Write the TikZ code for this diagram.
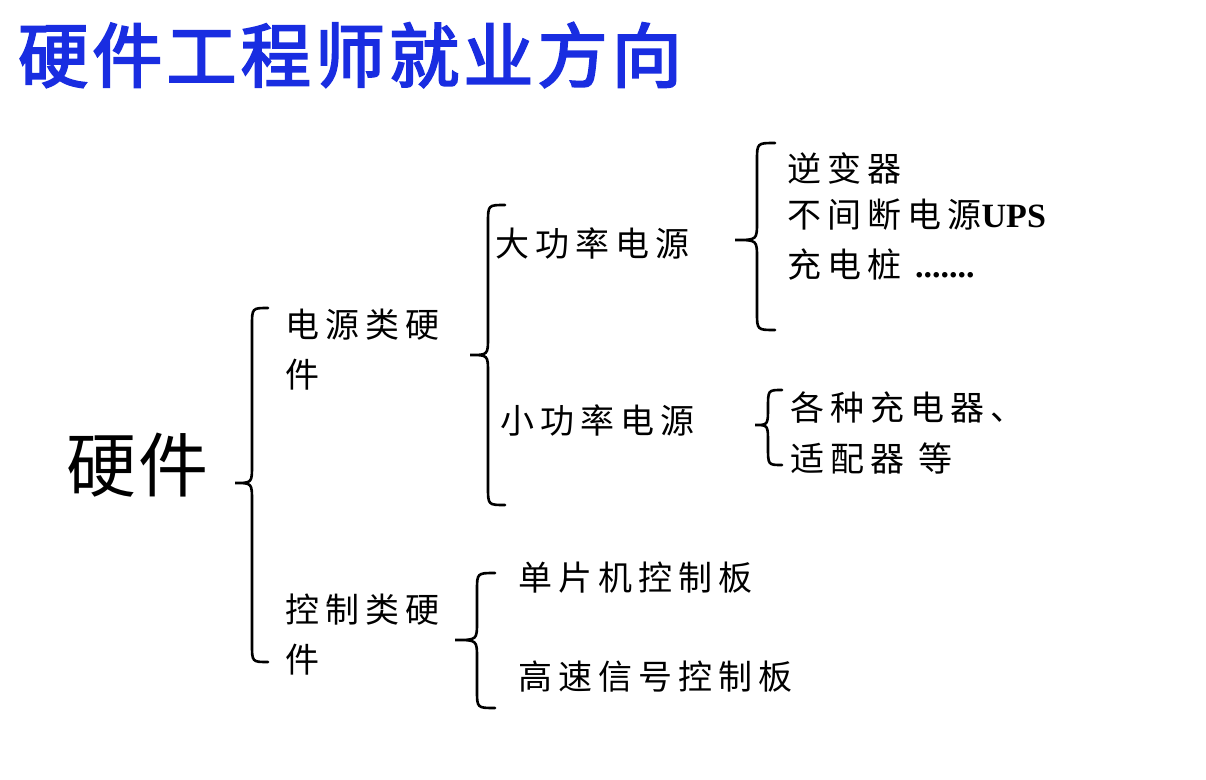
\documentclass[tikz,border=0pt]{standalone}
\usepackage{fontspec}
\setmainfont{Liberation Serif}
\newfontfamily\cjk{Noto Sans CJK SC}[LetterSpace=18]
\newfontfamily\cjkbig{Noto Sans CJK SC}[LetterSpace=4]
\newfontfamily\cjkb{Noto Sans CJK SC}[FakeBold=3,LetterSpace=6]
\newfontfamily\upsfont{Liberation Serif}
\definecolor{titleblue}{RGB}{25,45,225}
\newcommand{\cbrace}[6]{% xl xm xr ytop ytip ybot
  \draw[brc] (#3,#4) .. controls (#2,#4) .. (#2,#4+18) -- (#2,#5-18) .. controls (#2,#5) .. (#1,#5) .. controls (#2,#5) .. (#2,#5+18) -- (#2,#6-18) .. controls (#2,#6) .. (#3,#6);}
\begin{document}
\begin{tikzpicture}[x=1pt,y=-1pt,
  brc/.style={line width=2.6pt,line cap=round},
  t/.style={anchor=west,inner sep=0pt,font=\cjk\fontsize{34}{36}\selectfont}]
\useasboundingbox (0,0) rectangle (1206,779);
\fill[white] (0,0) rectangle (1206,779);
\node[anchor=west,inner sep=0pt,text=titleblue,font=\cjkb\fontsize{70}{72}\selectfont] (title) at (18,55) {硬件工程师就业方向};
\node[anchor=west,inner sep=0pt,font=\cjkbig\fontsize{70}{72}\selectfont] (hw) at (66,465) {硬件};
\cbrace{235}{252}{268}{308}{483}{662}
\node[t] (p1) at (285,325) {电源类硬};
\node[t] (p2) at (285,375) {件};
\node[t] (c1) at (285,610) {控制类硬};
\node[t] (c2) at (285,660) {件};
\cbrace{470}{488}{505}{205}{355}{505}
\node[t] (big) at (495,243) {大功率电源};
\node[t] (small) at (500,420) {小功率电源};
\cbrace{735}{757}{775}{143}{240}{330}
\node[t] (a1) at (787,168) {逆变器};
\node[t] (a2) at (787,215) {不间断电源{\upsfont\bfseries UPS}};
\node[t] (a3) at (787,265) {充电桩 {\upsfont\bfseries .......}};
\cbrace{755}{768}{782}{390}{425}{465}
\node[t] (b1) at (790,408) {各种充电器、};
\node[t] (b2) at (790,458) {适配器 等};
\cbrace{455}{477}{495}{573}{640}{708}
\node[t] (d1) at (518,578) {单片机控制板};
\node[t] (d2) at (518,677) {高速信号控制板};
\end{tikzpicture}
\end{document}
